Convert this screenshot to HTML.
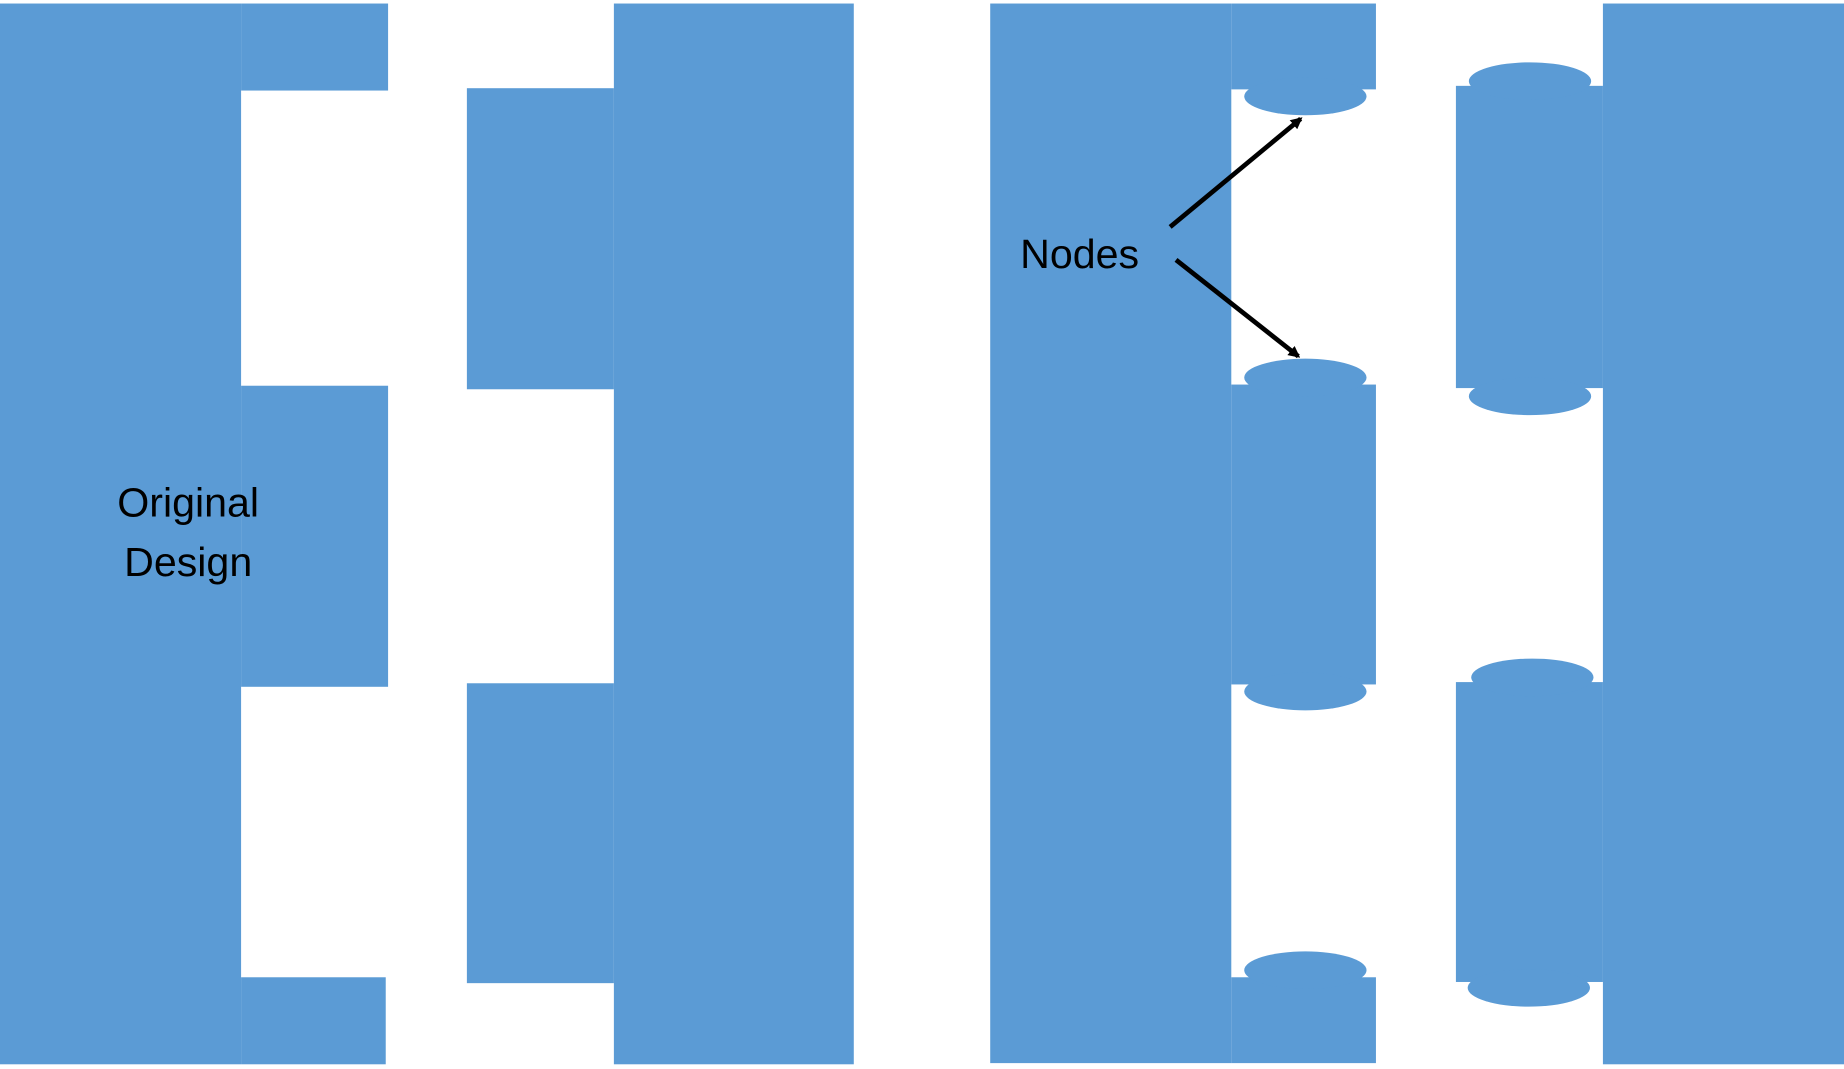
<!DOCTYPE html>
<html><head><meta charset="utf-8"><style>
html,body{margin:0;padding:0;background:#fff;overflow:hidden}
svg{display:block}
</style></head><body>
<svg width="1844" height="1069" viewBox="0 0 1568 909" preserveAspectRatio="none" xmlns="http://www.w3.org/2000/svg">
<defs><marker id="ah" markerWidth="10" markerHeight="10" refX="8" refY="5" orient="auto" markerUnits="userSpaceOnUse"><path d="M0,0 L10,5 L0,10 z" fill="#000"/></marker></defs>
<g fill="#5B9BD5">
<!-- shape 1 -->
<rect x="0" y="3" width="205" height="902"/>
<rect x="205" y="3" width="125" height="74"/>
<rect x="205" y="328" width="125" height="256"/>
<rect x="205" y="831" width="123" height="74"/>
<!-- shape 2 -->
<rect x="522" y="3" width="204" height="902"/>
<rect x="397" y="75" width="125" height="256"/>
<rect x="397" y="581" width="125" height="255"/>
<!-- shape 3 -->
<rect x="842" y="3" width="205" height="901"/>
<rect x="1047" y="3" width="123" height="73"/>
<ellipse cx="1110" cy="82" rx="52" ry="16"/>
<rect x="1047" y="327" width="123" height="255"/>
<ellipse cx="1110" cy="321" rx="52" ry="16"/>
<ellipse cx="1110" cy="588" rx="52" ry="16"/>
<rect x="1047" y="831" width="123" height="73"/>
<ellipse cx="1110" cy="825" rx="52" ry="16"/>
<!-- shape 4 -->
<rect x="1363" y="3" width="205" height="902"/>
<rect x="1238" y="73" width="125" height="257"/>
<ellipse cx="1301" cy="69" rx="52" ry="16"/>
<ellipse cx="1301" cy="337" rx="52" ry="16"/>
<rect x="1238" y="580" width="125" height="255"/>
<ellipse cx="1303" cy="576" rx="52" ry="16"/>
<ellipse cx="1300" cy="840" rx="52" ry="16"/>
</g>
<g font-family="Liberation Sans, sans-serif" font-size="35" fill="#000" text-anchor="middle">
<text x="160" y="439">Original</text>
<text x="160" y="490">Design</text>
<text x="918" y="228">Nodes</text>
</g>
<g stroke="#000" stroke-width="4">
<line x1="995" y1="193" x2="1106" y2="101" marker-end="url(#ah)"/>
<line x1="1000" y1="221" x2="1104" y2="303" marker-end="url(#ah)"/>
</g>
</svg>
</body></html>
